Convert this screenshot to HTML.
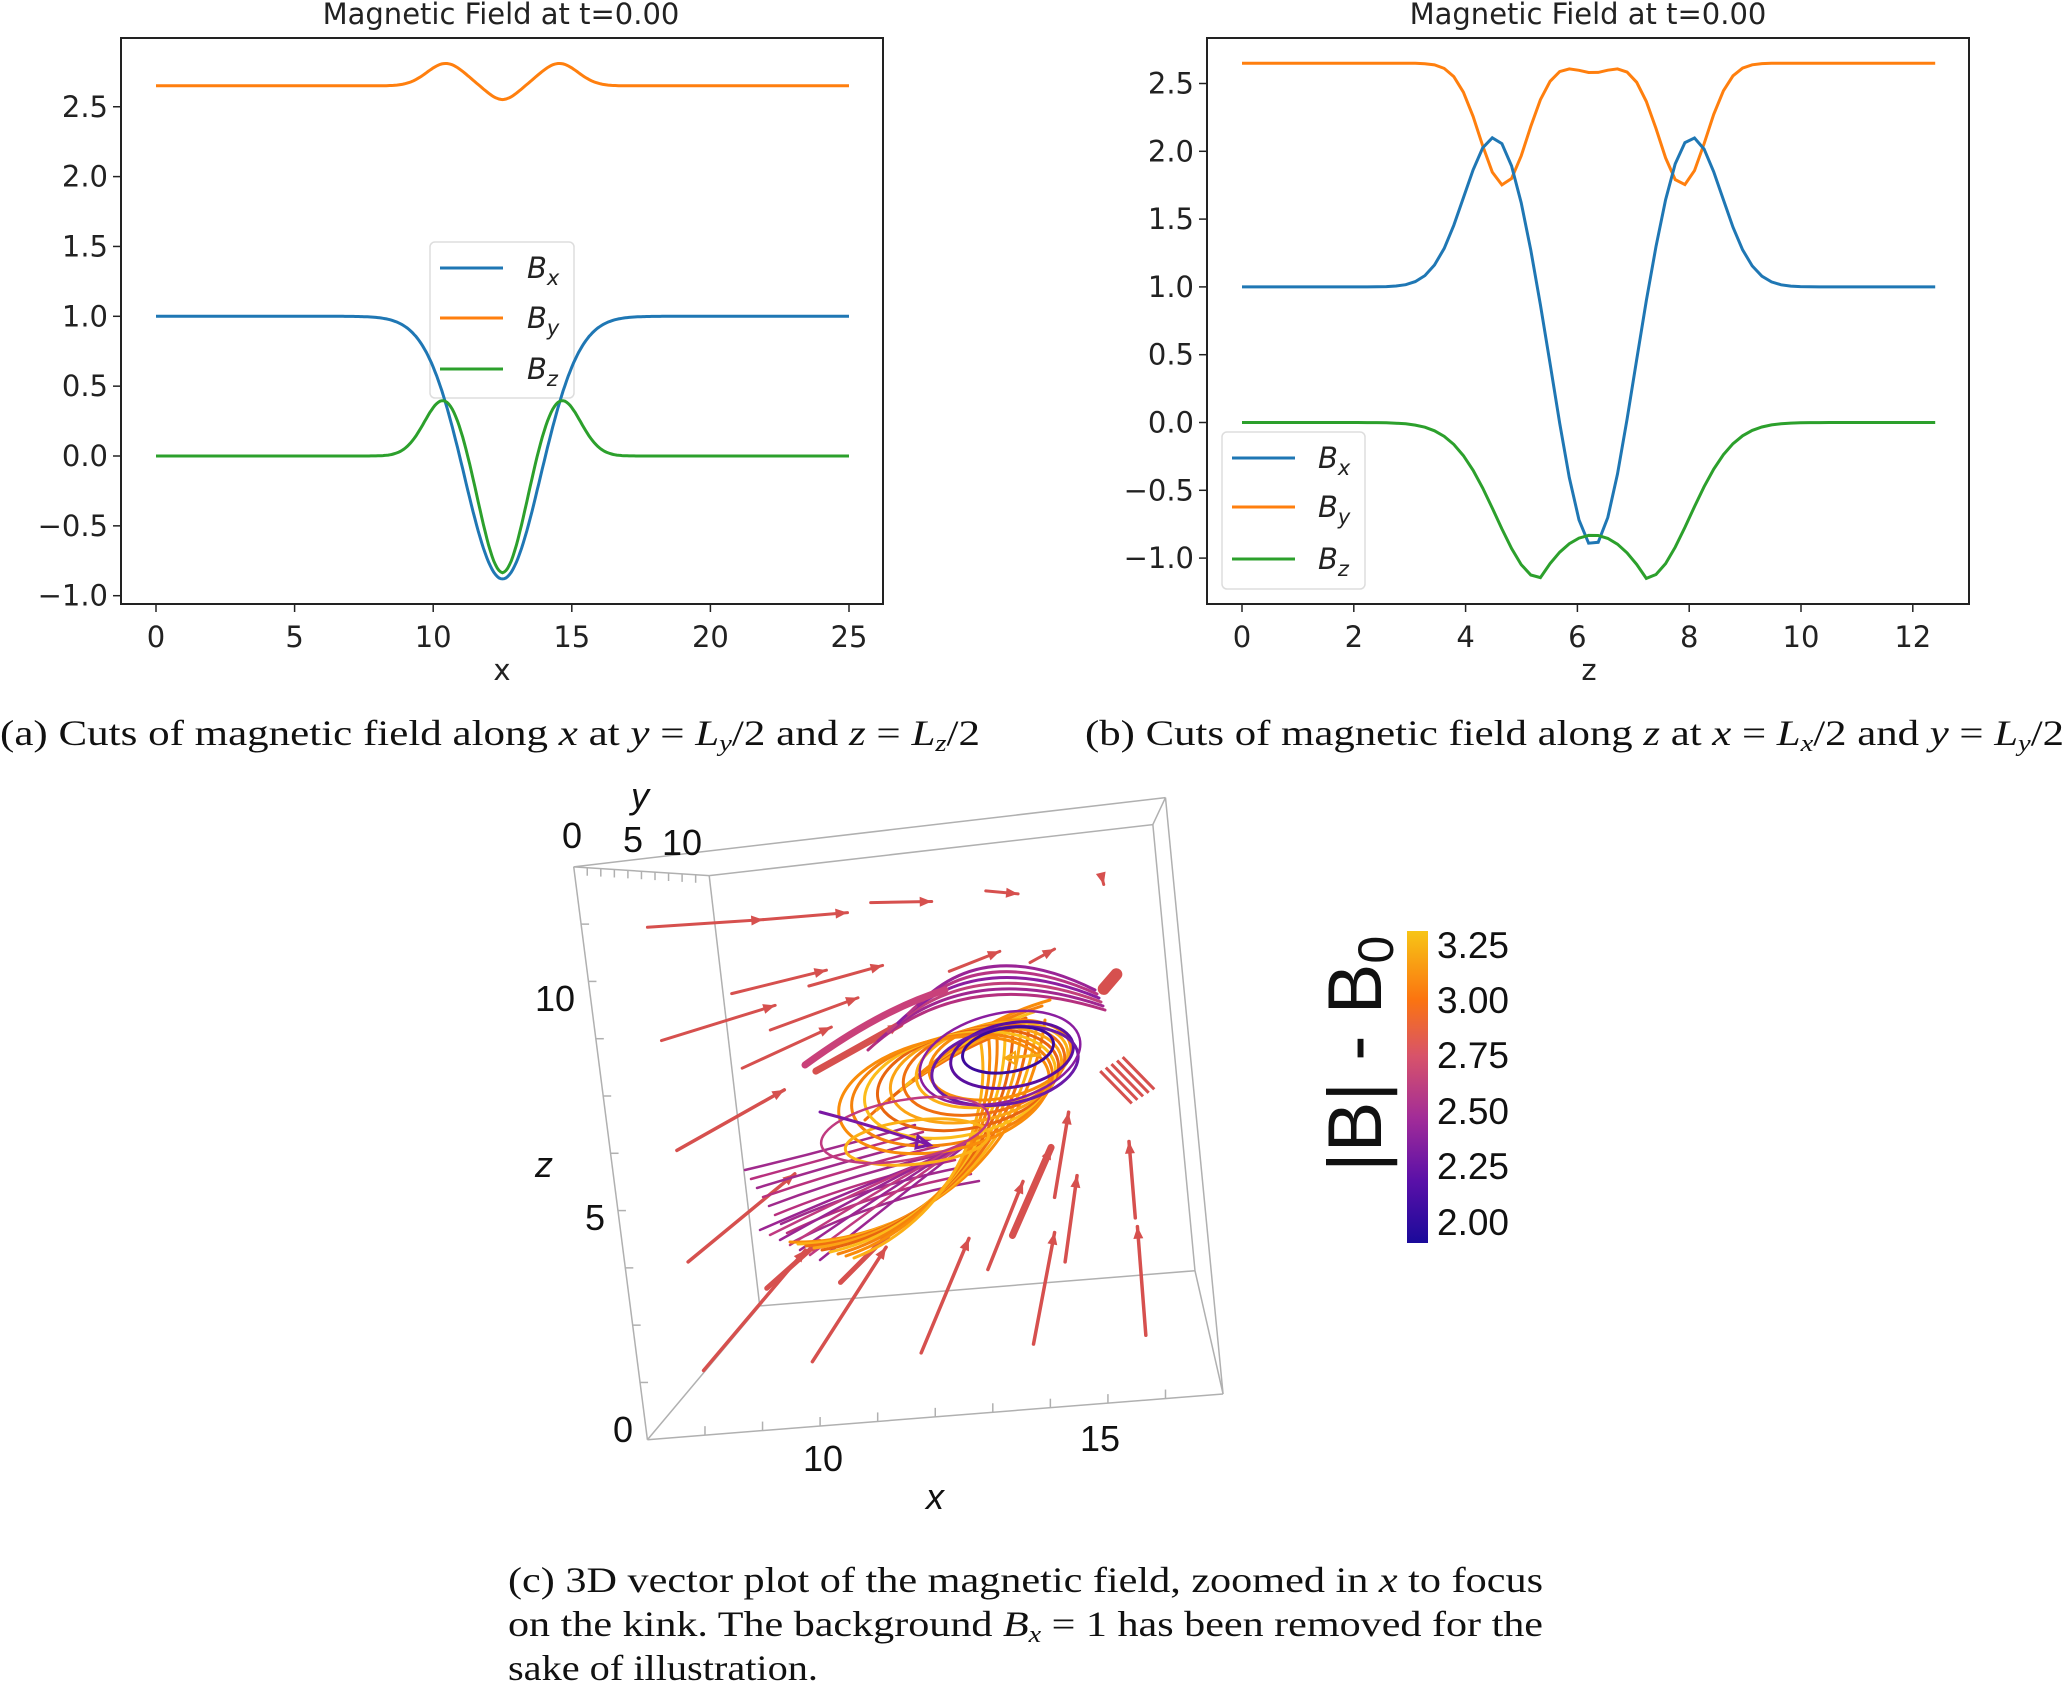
<!DOCTYPE html>
<html><head><meta charset="utf-8">
<style>
html,body{margin:0;padding:0;background:#fff;}
svg{display:block;}
.tk{font-family:"DejaVu Sans",sans-serif;font-size:29px;fill:#222;}
.cap{font-family:"Liberation Serif",serif;font-size:36px;fill:#111;}
.l3{font-family:"Liberation Sans",sans-serif;font-size:36px;fill:#111;}
</style></head>
<body>
<svg id="s" width="2064" height="1681" viewBox="0 0 2064 1681" xmlns="http://www.w3.org/2000/svg">
<rect width="2064" height="1681" fill="#fff"/>
<g id="p1"></g>
<g id="p2"></g>
<text class="tk" x="501" y="24" text-anchor="middle" style="font-size:29px">Magnetic Field at t=0.00</text>
<text class="tk" x="1588" y="24" text-anchor="middle" style="font-size:29px">Magnetic Field at t=0.00</text>
<text class="tk" x="502" y="680" text-anchor="middle">x</text>
<text class="tk" x="1589" y="680" text-anchor="middle">z</text>
<text class="cap" x="0" y="745" textLength="980" lengthAdjust="spacingAndGlyphs">(a) Cuts of magnetic field along <tspan font-style="italic">x</tspan> at <tspan font-style="italic">y</tspan> = <tspan font-style="italic">L<tspan font-size="24" dy="6">y</tspan></tspan><tspan dy="-6">/2 and </tspan><tspan font-style="italic">z</tspan> = <tspan font-style="italic">L<tspan font-size="24" dy="6">z</tspan></tspan><tspan dy="-6">/2</tspan></text>
<text class="cap" x="1085" y="745" textLength="979" lengthAdjust="spacingAndGlyphs">(b) Cuts of magnetic field along <tspan font-style="italic">z</tspan> at <tspan font-style="italic">x</tspan> = <tspan font-style="italic">L<tspan font-size="24" dy="6">x</tspan></tspan><tspan dy="-6">/2 and </tspan><tspan font-style="italic">y</tspan> = <tspan font-style="italic">L<tspan font-size="24" dy="6">y</tspan></tspan><tspan dy="-6">/2</tspan></text>
<text class="cap" x="508" y="1592" textLength="1035" lengthAdjust="spacingAndGlyphs">(c) 3D vector plot of the magnetic field, zoomed in <tspan font-style="italic">x</tspan> to focus</text>
<text class="cap" x="508" y="1636" textLength="1035" lengthAdjust="spacingAndGlyphs">on the kink. The background <tspan font-style="italic">B<tspan font-size="24" dy="6">x</tspan></tspan><tspan dy="-6"> = 1 has been removed for the</tspan></text>
<text class="cap" x="508" y="1680" textLength="310" lengthAdjust="spacingAndGlyphs">sake of illustration.</text>
<g id="box" fill="none" stroke="#b0b0b0" stroke-width="1.5"></g>
<g id="arr"></g>
<g id="str" fill="none"></g>
<text class="l3" x="640" y="808" text-anchor="middle" font-style="italic">y</text>
<text class="l3" x="572" y="848" text-anchor="middle">0</text>
<text class="l3" x="633" y="852" text-anchor="middle">5</text>
<text class="l3" x="682" y="855" text-anchor="middle">10</text>
<text class="l3" x="555" y="1011" text-anchor="middle">10</text>
<text class="l3" x="544" y="1177" text-anchor="middle" font-style="italic">z</text>
<text class="l3" x="595" y="1230" text-anchor="middle">5</text>
<text class="l3" x="623" y="1442" text-anchor="middle">0</text>
<text class="l3" x="823" y="1471" text-anchor="middle">10</text>
<text class="l3" x="1100" y="1451" text-anchor="middle">15</text>
<text class="l3" x="935" y="1509" text-anchor="middle" font-style="italic">x</text>
<defs><linearGradient id="cb" x1="0" y1="1" x2="0" y2="0">
<stop offset="0" stop-color="#1a0a9a"/><stop offset="0.2" stop-color="#5a10a8"/>
<stop offset="0.4" stop-color="#a22c98"/><stop offset="0.6" stop-color="#d8536a"/>
<stop offset="0.78" stop-color="#fb7410"/><stop offset="1" stop-color="#f7c516"/></linearGradient></defs>
<rect x="1407" y="931" width="21" height="312" fill="url(#cb)"/>
<g class="l3" style="font-size:37px">
<text x="1437" y="958">3.25</text><text x="1437" y="1013">3.00</text><text x="1437" y="1068">2.75</text>
<text x="1437" y="1124">2.50</text><text x="1437" y="1179">2.25</text><text x="1437" y="1235">2.00</text></g>
<text class="l3" transform="translate(1381,1172) rotate(-90)" style="font-size:76px">|B| - B<tspan font-size="50" dy="12">0</tspan></text>
</svg>
<script>
const NS="http://www.w3.org/2000/svg";
function el(p,t,a){const e=document.createElementNS(NS,t);for(const k in a)e.setAttribute(k,a[k]);p.appendChild(e);return e;}
function txt(p,x,y,s,anchor){const e=el(p,"text",{x:x,y:y,"class":"tk","text-anchor":anchor||"middle"});e.textContent=s;return e;}
const g=(u,w)=>Math.exp(-(u/w)*(u/w));
const C={b:"#1f77b4",o:"#ff7f0e",g:"#2ca02c"};
function axes(G,L,R,T,B,xt,xm,yt,ym){
 el(G,"rect",{x:L,y:T,width:R-L,height:B-T,fill:"none",stroke:"#222","stroke-width":2});
 xt.forEach(v=>{const X=xm(v);el(G,"line",{x1:X,y1:B,x2:X,y2:B+8,stroke:"#222","stroke-width":1.5});txt(G,X,B+43,v);});
 yt.forEach(v=>{const Y=ym(v);el(G,"line",{x1:L-8,y1:Y,x2:L,y2:Y,stroke:"#222","stroke-width":1.5});
  txt(G,L-13,Y+10,(v<0?"\u2212":"")+Math.abs(v).toFixed(1),"end");});
}
function curve(G,f,a,b,n,xm,ym,col){let d="";for(let i=0;i<=n;i++){const x=a+(b-a)*i/n;d+=(i?"L":"M")+xm(x).toFixed(1)+" "+ym(f(x)).toFixed(1);}
 el(G,"path",{d:d,fill:"none",stroke:col,"stroke-width":3});}
function legend(G,x,y,w,h,lx1,lx2,tx,rows){
 el(G,"rect",{x:x,y:y,width:w,height:h,rx:5,fill:"rgba(255,255,255,0.8)",stroke:"#ddd","stroke-width":1.5});
 const lab=["x","y","z"],cs=[C.b,C.o,C.g];
 rows.forEach((r,i)=>{el(G,"line",{x1:lx1,y1:r,x2:lx2,y2:r,stroke:cs[i],"stroke-width":3});
  const t=el(G,"text",{x:tx,y:r+10,"class":"tk","font-style":"italic"});t.innerHTML='B<tspan font-size="21" dy="7">'+lab[i]+'</tspan>';});
}
(function(){const G=document.getElementById("p1");
 const xm=x=>156+x*27.72, ym=v=>456-v*139.7;
 axes(G,121,883,38,604,[0,5,10,15,20,25],xm,[-1,-0.5,0,0.5,1,1.5,2,2.5],ym);
 const Bx=x=>{const d=x-12.5;return 1-1.88*g(d,1.95);};
 const Bz=x=>{const d=x-12.5;return -0.84*g(d,1.05)+0.41*g(Math.abs(d)-2.1,1.0);};
 const By=x=>{const d=x-12.5;return 2.65+0.16*g(Math.abs(d)-2.05,0.95)-0.10*g(d,0.75);};
 curve(G,By,0,25,400,xm,ym,C.o);
 legend(G,430,242,144,156,440,503,527,[268,318,369]);
 curve(G,Bx,0,25,400,xm,ym,C.b);curve(G,Bz,0,25,400,xm,ym,C.g);
})();
(function(){const G=document.getElementById("p2");
 const xm=x=>1242+x*55.9, ym=v=>422.5-v*135.6;
 axes(G,1207,1969,38,604,[0,2,4,6,8,10,12],xm,[-1,-0.5,0,0.5,1,1.5,2,2.5],ym);
 const c=6.28;
 const Bx=x=>{const d=x-c;return 1+1.12*g(Math.abs(d)-1.75,0.78)-1.92*g(d,0.82);};
 const Bz=x=>{const d=Math.abs(x-c);return d<0.95?-0.83-0.32*(d/0.95)*(d/0.95):-1.15*g(d-0.95,1.1);};
 const By=x=>{const d=x-c;return 2.65-0.9*g(Math.abs(d)-1.6,0.6)-0.07*g(d,0.4);};
 curve(G,By,0,12.4,72,xm,ym,C.o);curve(G,Bx,0,12.4,72,xm,ym,C.b);curve(G,Bz,0,12.4,72,xm,ym,C.g);
 legend(G,1222,432,143,157,1232,1295,1318,[458,507,559]);
})();
const M=(x,y)=>[500+x*0.702,760+y*0.587];
(function(){const G=document.getElementById("box");
 const seg=[[[105,182],[210,1158]],[[210,1158],[1030,1080]],[[1030,1080],[948,64]],[[948,64],[105,182]],
 [[298,197],[370,930]],[[370,930],[990,870]],[[990,870],[930,110]],[[930,110],[298,197]],
 [[105,182],[298,197]],[[948,64],[930,110]],[[1030,1080],[990,870]],[[210,1158],[370,930]]];
 seg.forEach(s=>{const a=M(...s[0]),b=M(...s[1]);el(G,"line",{x1:a[0],y1:a[1],x2:b[0],y2:b[1]});});
 for(let i=1;i<10;i++){const t=i/10;const a=M(105+105*t,182+976*t);el(G,"line",{x1:a[0],y1:a[1],x2:a[0]+8,y2:a[1]});
  const b=M(210+820*t,1158-78*t);el(G,"line",{x1:b[0],y1:b[1],x2:b[0],y2:b[1]-9});
  const c=M(105+193*t,182+15*t);el(G,"line",{x1:c[0],y1:c[1],x2:c[0],y2:c[1]+8});}
})();
(function(){const G=document.getElementById("arr");const col="#d6504e";
 const A=[[210,285,375,272,3],[375,272,495,260,3],[528,243,615,241,3],[692,223,738,228,3],[857,198,860,212,3],
 [330,398,465,358,3],[440,385,545,350,3],[640,360,712,326,3],[755,345,790,322,3],
 [230,478,392,418,3],[385,460,510,405,3],[345,525,472,455,3],[450,530,570,450,7],[252,665,405,562,3.5],
 [268,855,420,705,3.5],[290,1040,435,835,3.5],[380,900,455,820,5],[445,1025,550,830,3.5],[485,890,560,800,5],
 [600,1010,668,815,3.5],[695,868,745,718,3.5],[730,810,785,660,7],[760,995,790,805,3.5],[790,745,810,600,3.5],
 [805,855,822,708,3.5],[920,980,908,795,3.5],[905,780,896,650,3.5],[860,390,878,365,12]];
 A.forEach(a=>{const p=M(a[0],a[1]),q=M(a[2],a[3]);
  el(G,"line",{x1:p[0],y1:p[1],x2:q[0],y2:q[1],stroke:col,"stroke-width":a[4],"stroke-linecap":"round"});
  const dx=q[0]-p[0],dy=q[1]-p[1],L=Math.hypot(dx,dy),ux=dx/L,uy=dy/L,h=12;
  el(G,"path",{d:`M${q[0]} ${q[1]}L${q[0]-h*ux-5*uy} ${q[1]-h*uy+5*ux}L${q[0]-h*ux+5*uy} ${q[1]-h*uy-5*ux}Z`,fill:col});});
 for(let i=0;i<5;i++){const p=M(855+i*8,530-i*6),q=M(900+i*8,585-i*6);
  el(G,"line",{x1:p[0],y1:p[1],x2:q[0],y2:q[1],stroke:col,"stroke-width":3});}
})();
(function(){const G=document.getElementById("str");
 const P=(d,c,w)=>el(G,"path",{d:d,stroke:c,"stroke-width":w||3,"stroke-linecap":"round"});
 const E=(cx,cy,rx,ry,rot,c,w)=>el(G,"ellipse",{cx:cx,cy:cy,rx:rx,ry:ry,transform:`rotate(${rot} ${cx} ${cy})`,stroke:c,"stroke-width":w||3});
 const mag=["#b5307f","#a02690","#c2407a","#8c1ea0","#b83484","#9a2496"];
 for(let i=0;i<6;i++){P(`M${868+i*10} ${1050-i*9} Q${960+i*5} ${965-i*6} ${1105-i*2} ${1010-i*4}`,mag[i],3);}
 P("M805 1065 Q880 1010 945 990","#c9417a",7);
 for(let i=0;i<9;i++){P(`M${745+i*6} ${1170+i*9} Q${830+i*6} ${1150+i*6} ${915+i*8} ${1125+i*7}`,i%2?"#b8307e":"#a02a8c",2.5);}
 for(let i=0;i<7;i++){P(`M${760+i*10} ${1230+i*5} Q${840+i*10} ${1195} ${930+i*8} ${1160-i*4}`,i%2?"#c03a80":"#9b2592",2.5);}
 const org=["#f98c0a","#fcb016","#f07010","#fba314","#e8650f","#fcbc1a","#f5820c"];
 for(let i=0;i<9;i++){P(`M${790+i*8} ${1242+i*2} C${900+i*6} ${1245-i*3} ${1025-i*4} ${1170-i*6} ${1045-i*8} ${1020+i*3}`,org[i%7],3);}
 for(let i=0;i<6;i++){P(`M${865+i*12} ${1120-i*10} Q${930+i*10} ${1060-i*8} ${1010+i*8} ${1030-i*6}`,org[(i+2)%7],3);}
 for(let i=0;i<8;i++){E(1000-i*8,1060+i*5,72+i*5,38+i*2.5,-12,org[i%7],3);}
 E(1012,1055,62,32,-10,"#5a0fa0",3);E(1005,1066,74,38,-10,"#6a1aa8",3);E(1008,1050,46,22,-10,"#3c0a9c",3);
 E(1000,1058,82,44,-14,"#8a1ea0",2.5);
 P("M1040 1055 L1005 1058","#f7a814",3);P("M1005 1058 l10 -6 l0 12 z","#f7a814",2);
 E(917,1142,72,22,-6,"#fcb016",3);E(905,1130,85,30,-10,"#c03a80",2.5);
 P("M820 1112 Q870 1125 930 1145","#7a18a4",3);P("M930 1145 l-12 -9 l-2 12 z","#7a18a4",3);
})();
</script>
</body></html>
